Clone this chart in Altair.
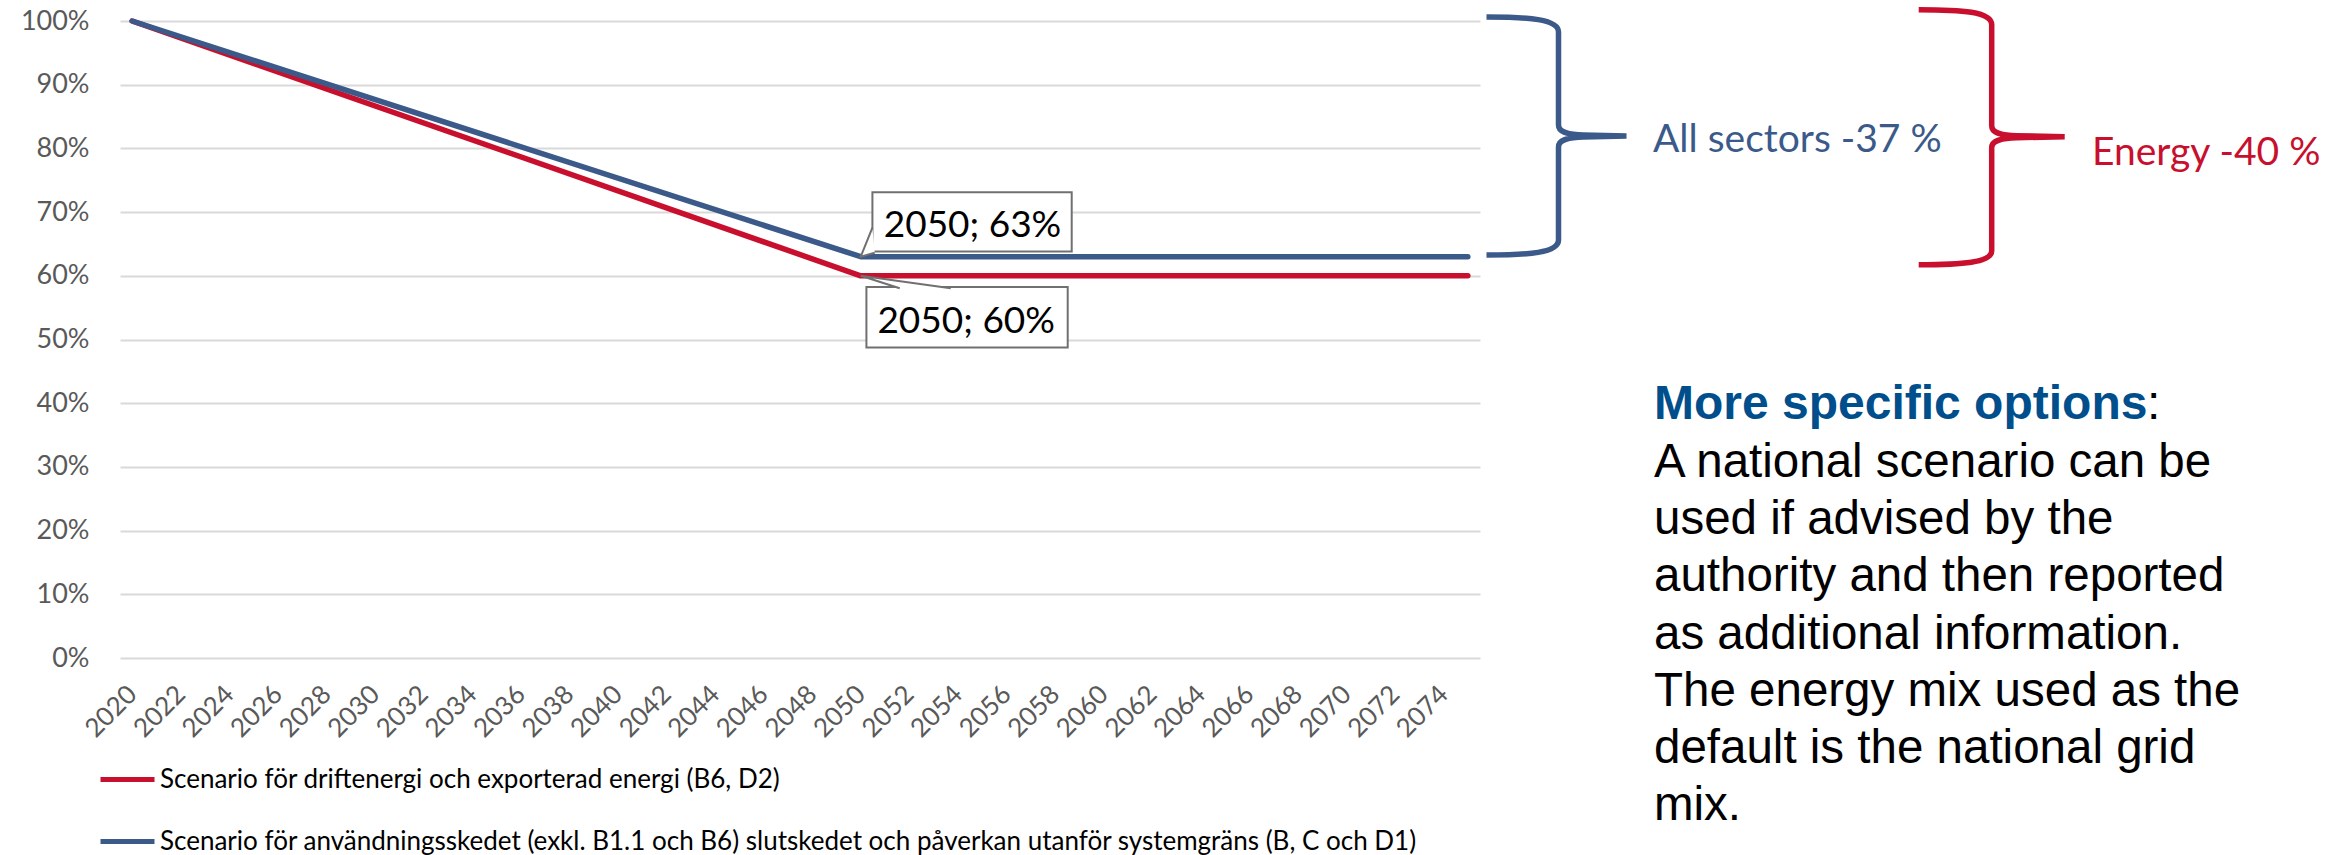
import altair as alt
import pandas as pd

# ---- data -------------------------------------------------------------
# Break points of the two reduction pathways (share of the 2020 level)
years = [2020, 2050, 2075]
energy_values = [1.00, 0.60, 0.60]
sector_values = [1.00, 0.63, 0.63]

series_keys = ["energy", "sectors"]
series_names = [
    "Scenario för driftenergi och exporterad energi (B6, D2)",
    "Scenario för användningsskedet (exkl. B1.1 och B6) slutskedet och påverkan utanför systemgräns (B, C och D1)",
]
series_colors = ["#C8102E", "#3B5A8A"]

tick_years = list(range(2020, 2075, 2))
y_ticks = [0.0, 0.1, 0.2, 0.3, 0.4, 0.5, 0.6, 0.7, 0.8, 0.9, 1.0]

brace_texts = ["All sectors -37 %", "Energy -40 %"]
heading = "More specific options"
body_lines = [
    "A national scenario can be",
    "used if advised by the",
    "authority and then reported",
    "as additional information.",
    "The energy mix used as the",
    "default is the national grid",
    "mix.",
]

# ---- layout -----------------------------------------------------------
TOTAL_W, TOTAL_H = 2341, 855
LEFT, TOP = 120, 21
PLOT_W, PLOT_H = 1360, 637

BLUE = series_colors[1]
RED = series_colors[0]
GREY_TXT = "#595959"
BOX_STROKE = "#707070"

rows = []
for key, name, vals in zip(series_keys, series_names, [energy_values, sector_values]):
    for yr, v in zip(years, vals):
        rows.append({"key": key, "series": name, "year": yr, "value": v})
df = pd.DataFrame(rows)

x_enc = alt.X(
    "year:Q",
    scale=alt.Scale(domain=[2019.5, 2075.5], nice=False, zero=False),
    axis=alt.Axis(
        values=tick_years, format="d", labelAngle=315, labelAlign="right",
        labelBaseline="middle", labelPadding=32, ticks=False, domain=False,
        grid=False, title=None, labelFont="Lato", labelFontSize=26,
        labelColor=GREY_TXT, labelOverlap=False,
    ),
)
y_enc = alt.Y(
    "value:Q",
    scale=alt.Scale(domain=[0, 1], nice=False, zero=True),
    axis=alt.Axis(
        values=y_ticks, format=".0%", ticks=False, domain=False, title=None,
        gridColor="#D9D9D9", gridWidth=2, labelFont="Lato", labelFontSize=27,
        labelColor=GREY_TXT, labelPadding=31,
    ),
)

base = alt.Chart(df)

lines = base.mark_line(strokeWidth=5.5, strokeCap="round", strokeJoin="round").encode(
    x=x_enc,
    y=y_enc,
    color=alt.Color(
        "series:N",
        scale=alt.Scale(domain=series_names, range=series_colors),
        legend=alt.Legend(
            title=None, orient="none", legendX=-22, legendY=729,
            direction="vertical", symbolType="stroke", symbolSize=2916,
            symbolStrokeWidth=5, labelFont="Lato", labelFontSize=26,
            labelColor="black", labelLimit=2000, labelOffset=3, padding=0,
            rowPadding=19,
        ),
    ),
)

# data labels at 2050 with callout boxes
callouts = {
    "sectors": dict(box=(11.7, 211, -64.5, -5.1), text=(23, -19.5),
                    wedge="M 11.7 -29 L 0 0 L 14 -4"),
    "energy": dict(box=(5.7, 207, 11.1, 71.8), text=(16.7, 56.8),
                   wedge="M 39 12.5 L 0 0 L 90 12.5"),
}

label_layers = []
for key in ["sectors", "energy"]:
    c = callouts[key]
    sel = base.transform_filter(
        f"datum.key == '{key}' && datum.year == 2050"
    ).transform_calculate(
        label="datum.year + '; ' + format(datum.value, '.0%')"
    )
    x0, x1, y0, y1 = c["box"]
    box = sel.mark_rect(
        fill="white", stroke=BOX_STROKE, strokeWidth=2, opacity=1,
        xOffset=x0, x2Offset=x1, yOffset=y0, y2Offset=y1,
    ).encode(x="year:Q", x2="year", y="value:Q", y2="value")
    wedge = sel.mark_point(
        shape=c["wedge"], size=4, filled=True, fill="white", stroke=BOX_STROKE,
        strokeWidth=2, opacity=1, strokeJoin="miter",
    ).encode(x="year:Q", y="value:Q")
    txt = sel.mark_text(
        align="left", baseline="alphabetic", dx=c["text"][0], dy=c["text"][1],
        font="Lato", fontSize=37, color="black",
    ).encode(x="year:Q", y="value:Q", text="label:N")
    label_layers += [box, wedge, txt]

# curly braces summarising the reductions
BLUE_BRACE = (
    "M -72 -119 C -30 -119 0 -117 0 -104 L 0 -11 C 0 -4 8 -1.5 25 -1 L 68 0 "
    "M 68 0 L 25 1 C 8 1.5 0 4 0 11 L 0 104 C 0 117 -30 119 -72 119"
)
RED_BRACE = (
    "M -73 -127 C -30 -127 0 -125 0 -112 L 0 -11 C 0 -4 8 -1.5 25 -1 L 73 0 "
    "M 73 0 L 25 1 C 8 1.5 0 4 0 11 L 0 114 C 0 126 -30 128 -73 128"
)

def brace(path, cx, cy, color):
    return alt.Chart(pd.DataFrame({"k": [0]})).mark_point(
        shape=path, size=4, filled=False, stroke=color, strokeWidth=5.5,
        opacity=1, strokeJoin="round",
    ).encode(x=alt.value(cx - LEFT), y=alt.value(cy - TOP))

def note(text, x, y, color, font, size, weight="normal"):
    return alt.Chart(pd.DataFrame({"t": [text]})).mark_text(
        align="left", baseline="alphabetic", font=font, fontSize=size,
        fontWeight=weight, color=color, lineBreak="\n", lineHeight=57.2,
    ).encode(x=alt.value(x - LEFT), y=alt.value(y - TOP), text="t:N")

annotations = [
    brace(BLUE_BRACE, 1558.5, 136, BLUE),
    brace(RED_BRACE, 1991.7, 136.7, RED),
    note(brace_texts[0], 1653, 152, BLUE, "Lato", 39),
    note(brace_texts[1], 2092, 165, RED, "Lato", 39),
    note(heading, 1654, 419, "#004F8C", "Liberation Sans", 48, "bold"),
    note(":", 2147, 419, "black", "Liberation Sans", 48),
    note("\n".join(body_lines), 1654, 477, "black", "Liberation Sans", 47.5),
]

chart = alt.layer(lines, *label_layers, *annotations).properties(
    width=PLOT_W,
    height=PLOT_H,
    autosize=alt.AutoSizeParams(type="none"),
    padding={"left": LEFT, "top": TOP,
             "right": TOTAL_W - LEFT - PLOT_W,
             "bottom": TOTAL_H - TOP - PLOT_H},
    background="white",
).configure_view(strokeWidth=0)

chart.save("out.html", embed_options={"renderer": "svg", "actions": False})
